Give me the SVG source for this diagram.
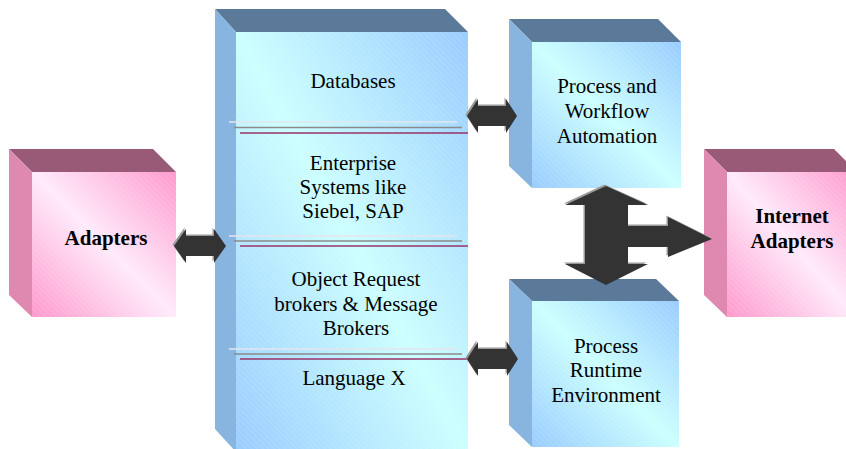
<svg xmlns="http://www.w3.org/2000/svg" width="846" height="449" viewBox="0 0 846 449">
  <defs>
    <linearGradient id="blueFace" x1="1" y1="0" x2="0" y2="1">
      <stop offset="0" stop-color="#99ccff"/>
      <stop offset="0.5" stop-color="#ccffff"/>
      <stop offset="1" stop-color="#99ccff"/>
    </linearGradient>
    <linearGradient id="pinkFace" x1="1" y1="0" x2="0" y2="1">
      <stop offset="0" stop-color="#ff99cc"/>
      <stop offset="0.5" stop-color="#ffeafb"/>
      <stop offset="1" stop-color="#ff99cc"/>
    </linearGradient>
    <pattern id="hatch" width="4" height="4" patternUnits="userSpaceOnUse" patternTransform="rotate(-45)">
      <line x1="0" y1="0" x2="0" y2="4" stroke="#ffffff" stroke-width="1" stroke-opacity="0.25"/>
    </pattern>
  </defs>
  <style>
    .blueTop { fill: #5b7a99; }
    .blueSide { fill: #88b4e0; }
    .blueFront { fill: url(#blueFace); }
    .pinkTop { fill: #995a78; }
    .pinkSide { fill: #df88b0; }
    .pinkFront { fill: url(#pinkFace); }
    .hatch { fill: url(#hatch); }
    .lbl { font-family: "Liberation Serif", "Times New Roman", serif; font-size: 21px; fill: #000; text-anchor: middle; }
    .bold { font-weight: bold; }
    .sepLight { stroke: #e4e4ec; stroke-width: 1.5; }
    .sepGray { stroke: #8a8a8a; stroke-width: 1.5; }
    .sepRed { stroke: #993366; stroke-width: 1.5; }
    .arrow { fill: #333333; }
    .arrowEdge { fill: #9a9a9a; }
  </style>

  <!-- Central stack of integration layers -->
  <g id="layers">
    <polygon class="blueTop" points="215,9 445,9 468,32 236,32"/>
    <polygon class="blueSide" points="215,9 236,32 236,452 215,429"/>
    <rect class="blueFront" x="236" y="32" width="232" height="420"/>
    <rect class="hatch" x="236" y="32" width="232" height="420"/>
    <line class="sepLight" x1="229" y1="122" x2="457" y2="122"/>
    <line class="sepGray" x1="234" y1="127.5" x2="462" y2="127.5"/>
    <line class="sepRed" x1="240" y1="133" x2="468" y2="133"/>
    <line class="sepLight" x1="229" y1="236" x2="457" y2="236"/>
    <line class="sepGray" x1="234" y1="241" x2="462" y2="241"/>
    <line class="sepRed" x1="240" y1="246" x2="468" y2="246"/>
    <line class="sepLight" x1="229" y1="349" x2="457" y2="349"/>
    <line class="sepGray" x1="234" y1="354" x2="462" y2="354"/>
    <line class="sepRed" x1="240" y1="359" x2="468" y2="359"/>
    <text class="lbl" x="353" y="88">Databases</text>
    <text class="lbl" x="353" y="170">Enterprise</text>
    <text class="lbl" x="353" y="194">Systems like</text>
    <text class="lbl" x="353" y="218">Siebel, SAP</text>
    <text class="lbl" x="356" y="286">Object Request</text>
    <text class="lbl" x="356" y="311">brokers &amp; Message</text>
    <text class="lbl" x="356" y="335">Brokers</text>
    <text class="lbl" x="354" y="385">Language X</text>
  </g>

  <!-- Adapters -->
  <g id="adapters">
    <polygon class="pinkTop" points="9,149 153,149 176,172 32,172"/>
    <polygon class="pinkSide" points="9,149 32,172 32,317 9,295"/>
    <rect class="pinkFront" x="32" y="172" width="144" height="145"/>
    <rect class="hatch" x="32" y="172" width="144" height="145"/>
    <text class="lbl bold" x="106" y="245">Adapters</text>
  </g>

  <!-- Process and Workflow Automation -->
  <g id="workflow">
    <polygon class="blueTop" points="509,19 658,19 681,42 532,42"/>
    <polygon class="blueSide" points="509,19 532,42 532,188 509,166"/>
    <rect class="blueFront" x="532" y="42" width="149" height="146"/>
    <rect class="hatch" x="532" y="42" width="149" height="146"/>
    <text class="lbl" x="607" y="93">Process and</text>
    <text class="lbl" x="607" y="118">Workflow</text>
    <text class="lbl" x="607" y="143">Automation</text>
  </g>

  <!-- Process Runtime Environment -->
  <g id="runtime">
    <polygon class="blueTop" points="509,279 656,279 679,301 532,301"/>
    <polygon class="blueSide" points="509,279 532,301 532,447 509,425"/>
    <rect class="blueFront" x="532" y="301" width="147" height="146"/>
    <rect class="hatch" x="532" y="301" width="147" height="146"/>
    <text class="lbl" x="606" y="353">Process</text>
    <text class="lbl" x="606" y="377">Runtime</text>
    <text class="lbl" x="606" y="402">Environment</text>
  </g>

  <!-- Internet Adapters -->
  <g id="internet-adapters">
    <polygon class="pinkTop" points="704,149 834,149 857,172 727,172"/>
    <polygon class="pinkSide" points="704,149 727,172 727,317 704,295"/>
    <rect class="pinkFront" x="727" y="172" width="130" height="145"/>
    <rect class="hatch" x="727" y="172" width="130" height="145"/>
    <text class="lbl bold" x="792" y="223">Internet</text>
    <text class="lbl bold" x="792" y="248">Adapters</text>
  </g>

  <!-- Block arrows between the components -->
  <g id="connectors">
    <g id="arrow-layers-workflow">
      <polygon class="arrowEdge" transform="translate(-1.5,-1.5)" points="467,116 478,99 478,106 506,106 506,99 517,116 506,133 506,126 478,126 478,133"/>
      <polygon class="arrow" points="467,116 478,99 478,106 506,106 506,99 517,116 506,133 506,126 478,126 478,133"/>
    </g>
    <g id="arrow-adapters-layers">
      <polygon class="arrowEdge" transform="translate(-1.5,-1.5)" points="174,246 186,229 186,236 214,236 214,229 226,246 214,263 214,256 186,256 186,263"/>
      <polygon class="arrow" points="174,246 186,229 186,236 214,236 214,229 226,246 214,263 214,256 186,256 186,263"/>
    </g>
    <g id="arrow-layers-runtime">
      <polygon class="arrowEdge" transform="translate(-1.5,-1.5)" points="467,359 478,342 478,349 507,349 507,342 518,359 507,376 507,369 478,369 478,376"/>
      <polygon class="arrow" points="467,359 478,342 478,349 507,349 507,342 518,359 507,376 507,369 478,369 478,376"/>
    </g>
    <g id="arrow-process-internet">
      <polygon class="arrowEdge" transform="translate(-1.5,-1.5)" points="606,186 648,205 628,205 628,226 668,226 668,217 712,239 668,257 668,247 628,247 628,264 648,264 606,285 565,264 585,264 585,205 565,205"/>
      <polygon class="arrow" points="606,186 648,205 628,205 628,226 668,226 668,217 712,239 668,257 668,247 628,247 628,264 648,264 606,285 565,264 585,264 585,205 565,205"/>
    </g>
  </g>
</svg>
